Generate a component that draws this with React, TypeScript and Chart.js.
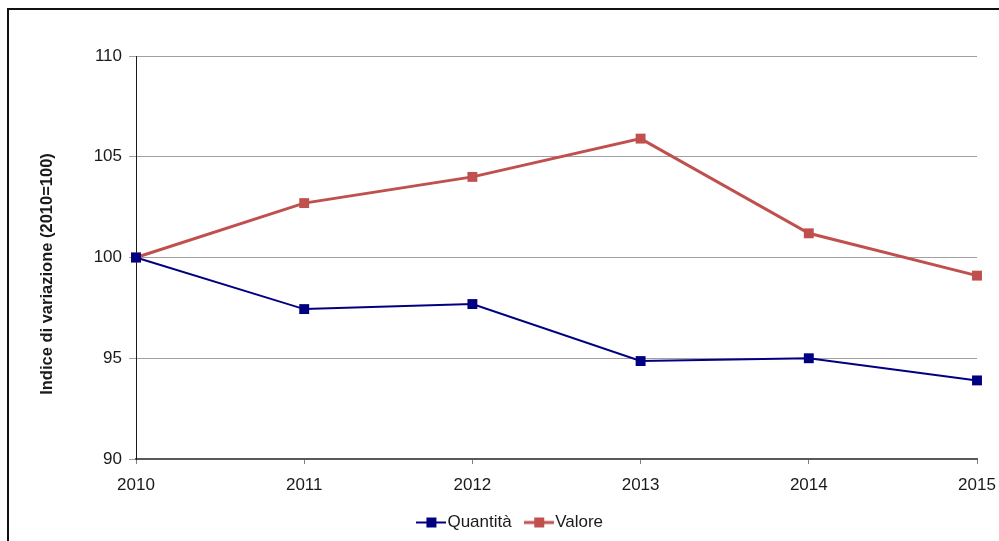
import React, { useEffect, useRef } from "react";
import { Chart, registerables } from "chart.js";

Chart.register(...registerables);

const years = ["2010", "2011", "2012", "2013", "2014", "2015"];
const quantita = [100, 97.44, 97.69, 94.86, 95.0, 93.9];
const valore = [100, 102.7, 104.0, 105.9, 101.2, 99.1];
const seriesNames = ["Quantità", "Valore"];
const seriesColors = ["#000080", "#C0504D"];
const seriesLineWidths = [2, 3];
const yTitle = "Indice di variazione (2010=100)";
const yMin = 90;
const yMax = 110;
const yStep = 5;

const FONT = "'Liberation Sans', Arial, sans-serif";

function makeMarker(color: string, lw: number) {
  const c = document.createElement("canvas");
  c.width = 30;
  c.height = 12;
  const ctx = c.getContext("2d")!;
  ctx.strokeStyle = color;
  ctx.lineWidth = lw;
  ctx.beginPath();
  ctx.moveTo(0, 6);
  ctx.lineTo(30, 6);
  ctx.stroke();
  ctx.fillStyle = color;
  ctx.fillRect(10, 1, 10, 10);
  return c;
}

const yTitlePlugin = {
  id: "yTitleCustom",
  afterDraw(chart: any) {
    const ctx = chart.ctx;
    ctx.save();
    ctx.translate(47, 274);
    ctx.rotate(-Math.PI / 2);
    ctx.font = `bold 16.5px ${FONT}`;
    ctx.fillStyle = "#1a1a1a";
    ctx.textAlign = "center";
    ctx.textBaseline = "middle";
    ctx.fillText(yTitle, 0, 0);
    ctx.restore();
  },
};

export default function App() {
  const ref = useRef<HTMLCanvasElement | null>(null);
  useEffect(() => {
    if (!ref.current) return;
    const markers = seriesColors.map((c, i) => makeMarker(c, seriesLineWidths[i]));
    const chart = new Chart(ref.current, {
      type: "line",
      data: {
        labels: years,
        datasets: [
          {
            label: seriesNames[0],
            data: quantita,
            borderColor: seriesColors[0],
            backgroundColor: seriesColors[0],
            borderWidth: seriesLineWidths[0],
            pointStyle: "rect",
            pointRadius: 7,
            pointBorderWidth: 0,
            pointBackgroundColor: seriesColors[0],
            tension: 0,
          },
          {
            label: seriesNames[1],
            data: valore,
            borderColor: seriesColors[1],
            backgroundColor: seriesColors[1],
            borderWidth: seriesLineWidths[1],
            pointStyle: "rect",
            pointRadius: 7,
            pointBorderWidth: 0,
            pointBackgroundColor: seriesColors[1],
            tension: 0,
          },
        ],
      },
      options: {
        responsive: false,
        animation: false,
        layout: { padding: { left: 50, right: 22, top: 56, bottom: 0 } },
        plugins: {
          tooltip: { enabled: false },
          title: { display: false },
          legend: {
            position: "bottom",
            labels: {
              usePointStyle: true,
              pointStyleWidth: 15,
              padding: 20,
              color: "#1a1a1a",
              font: { family: FONT, size: 17 },
              generateLabels(chart: any) {
                const items = Chart.defaults.plugins.legend.labels.generateLabels(chart);
                return items.map((it: any, i: number) => ({ ...it, pointStyle: markers[i] }));
              },
            },
          },
        },
        scales: {
          x: {
            type: "category",
            offset: false,
            afterFit(scale: any) {
              scale.height = 35;
              scale.paddingRight = 0;
            },
            grid: {
              drawOnChartArea: false,
              drawTicks: true,
              tickLength: 5,
              color: "#808080",
            },
            border: { display: true, color: "#595959", width: 2 },
            ticks: {
              color: "#1a1a1a",
              font: { family: FONT, size: 17 },
              padding: 11,
              maxRotation: 0,
              autoSkip: false,
            },
          },
          y: {
            min: yMin,
            max: yMax,
            afterFit(scale: any) {
              scale.width = 86;
            },
            grid: {
              color: "#a0a0a0",
              lineWidth: 1,
              tickLength: 7,
            },
            border: { display: true, color: "#1a1a1a", width: 1 },
            ticks: {
              stepSize: yStep,
              color: "#1a1a1a",
              font: { family: FONT, size: 17 },
              padding: 7,
            },
          },
        },
      },
      plugins: [yTitlePlugin],
    } as any);
    return () => chart.destroy();
  }, []);

  return (
    <div
      style={{
        position: "absolute",
        left: 0,
        top: 0,
        width: 999,
        height: 541,
        overflow: "hidden",
        background: "#fff",
      }}
    >
      <canvas ref={ref} width={999} height={541} style={{ position: "absolute", left: 0, top: 0 }} />
      <div
        style={{
          position: "absolute",
          left: 7,
          top: 8,
          width: 1200,
          height: 800,
          borderLeft: "2px solid #111",
          borderTop: "2px solid #111",
          pointerEvents: "none",
        }}
      />
    </div>
  );
}
